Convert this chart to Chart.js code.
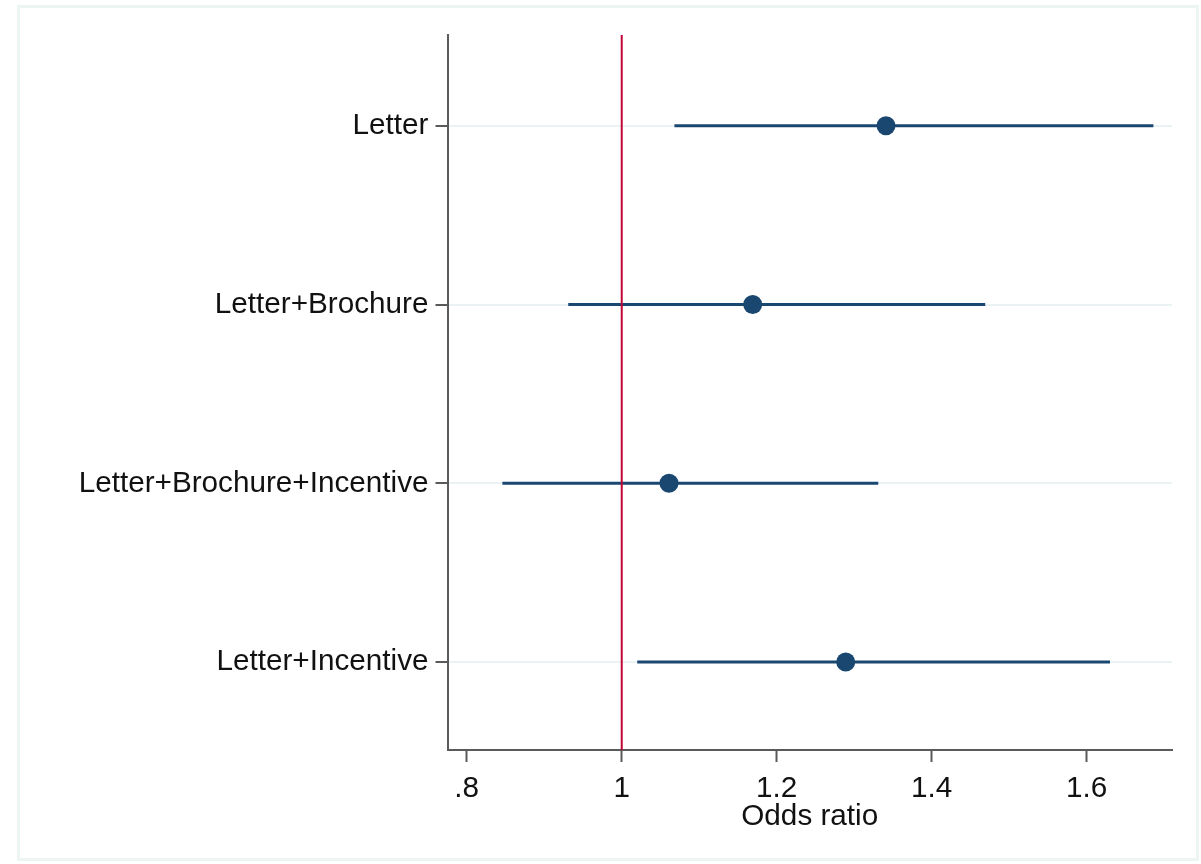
<!DOCTYPE html>
<html>
<head>
<meta charset="utf-8">
<script src="https://cdn.jsdelivr.net/npm/chart.js@4.4.1/dist/chart.umd.min.js"></script>
<style>
  html, body { margin: 0; padding: 0; background: #ffffff; }
  #wrap { position: relative; width: 1201px; height: 864px; }
  canvas { display: block; }
</style>
</head>
<body>
<div id="wrap"><canvas id="c" width="1201" height="864"></canvas></div>
<script>
// ---- data ----
const categories = ["Letter", "Letter+Brochure", "Letter+Brochure+Incentive", "Letter+Incentive"];
const estimates  = [1.341, 1.169, 1.061, 1.289];
const ciLower    = [1.068, 0.931, 0.846, 1.020];
const ciUpper    = [1.686, 1.469, 1.331, 1.630];
const xTickValues = [0.8, 1.0, 1.2, 1.4, 1.6];
const xTickLabels = [".8", "1", "1.2", "1.4", "1.6"];
const referenceValue = 1;
const xTitle = "Odds ratio";

// ---- styles ----
const FONT = "'Liberation Sans', Arial, sans-serif";
const NAVY = "#1a476f";
const RED = "#c10534";
const AXIS = "#5a5a5a";
const GRID = "#eaf2f3";
const TEXT = "#111111";
const Y_MIN = 0.492, Y_MAX = 4.492;

const datasets = [];
// confidence interval lines
categories.forEach((c, i) => {
  datasets.push({
    type: "line",
    data: [{x: ciLower[i], y: i + 1}, {x: ciUpper[i], y: i + 1}],
    borderColor: NAVY,
    borderWidth: 3,
    pointRadius: 0,
    order: 3
  });
});
// reference line
datasets.push({
  type: "line",
  data: [{x: referenceValue, y: Y_MIN}, {x: referenceValue, y: Y_MAX}],
  borderColor: RED,
  borderWidth: 2,
  pointRadius: 0,
  order: 2
});
// point estimates
datasets.push({
  type: "scatter",
  data: estimates.map((v, i) => ({x: v, y: i + 1})),
  backgroundColor: NAVY,
  borderColor: NAVY,
  borderWidth: 0,
  pointRadius: 9.5,
  order: 1
});

const framePlugin = {
  id: "frame",
  beforeDraw(chart) {
    const ctx = chart.ctx;
    ctx.save();
    ctx.fillStyle = "#ffffff";
    ctx.fillRect(0, 0, chart.width, chart.height);
    ctx.strokeStyle = "#edf4f4";
    ctx.lineWidth = 3;
    ctx.strokeRect(18.5, 6.5, 1179, 853);
    ctx.restore();
  }
};

new Chart(document.getElementById("c"), {
  type: "scatter",
  data: { datasets },
  plugins: [framePlugin],
  options: {
    responsive: false,
    animation: false,
    events: [],
    layout: { padding: { top: 35, right: 29, bottom: 0, left: 0 } },
    plugins: { legend: { display: false }, tooltip: { enabled: false } },
    scales: {
      x: {
        type: "linear",
        min: 0.7752,
        max: 1.710,
        afterBuildTicks(scale) { scale.ticks = xTickValues.map(v => ({value: v})); },
        afterFit(scale) { scale.height = 114; },
        ticks: {
          callback(v) { const k = xTickValues.findIndex(t => Math.abs(t - v) < 1e-9); return k >= 0 ? xTickLabels[k] : ""; },
          font: { family: FONT, size: 29.7 },
          color: TEXT,
          padding: 9,
          maxRotation: 0,
          autoSkip: false
        },
        grid: { drawOnChartArea: false, drawTicks: true, tickLength: 12, tickColor: AXIS, tickWidth: 2 },
        border: { display: true, color: AXIS, width: 2 },
        title: { display: true, text: xTitle, font: { family: FONT, size: 29.7 }, color: TEXT, padding: { top: 0, bottom: 29 } }
      },
      y: {
        type: "linear",
        reverse: true,
        min: Y_MIN,
        max: Y_MAX,
        afterBuildTicks(scale) { scale.ticks = categories.map((c, i) => ({value: i + 1})); },
        afterFit(scale) { scale.width = 447.5; },
        ticks: {
          callback(v) { return categories[Math.round(v) - 1] || ""; },
          font: { family: FONT, size: 29.7 },
          color: TEXT,
          padding: 7,
          autoSkip: false
        },
        grid: { drawOnChartArea: true, color: GRID, lineWidth: 2, drawTicks: true, tickLength: 12, tickColor: AXIS, tickWidth: 2 },
        border: { display: true, color: AXIS, width: 2 }
      }
    }
  }
});
</script>
</body>
</html>
